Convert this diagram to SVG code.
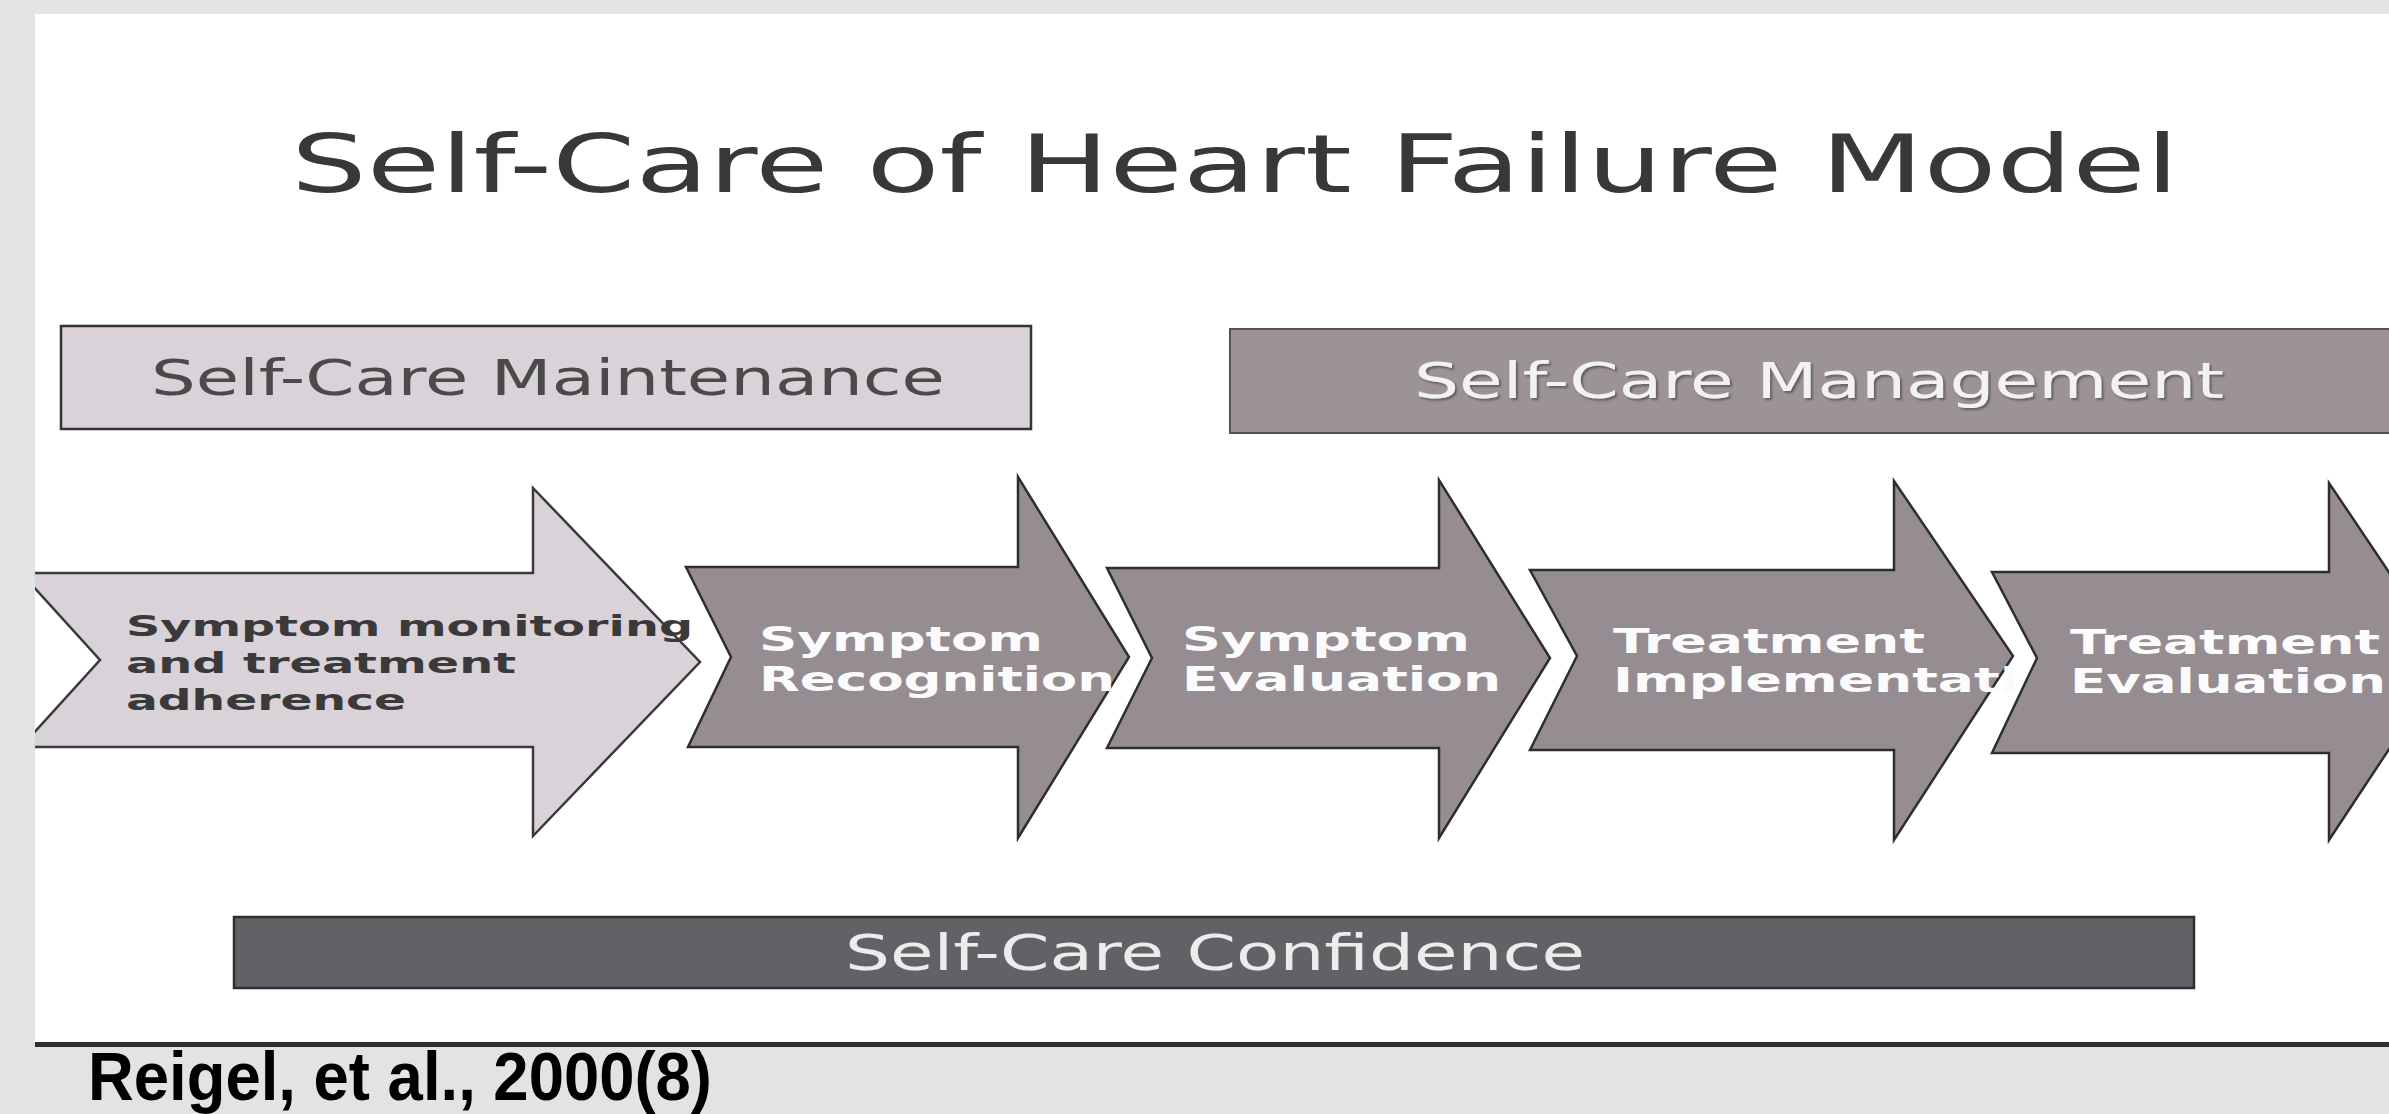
<svg xmlns="http://www.w3.org/2000/svg" width="2389" height="1114" viewBox="0 0 2389 1114">
  <style>
    .label { font-family: "DejaVu Sans", Verdana, sans-serif; }
    .bold { font-family: "DejaVu Sans", Verdana, sans-serif; font-weight: bold; }
    .light-arrow { fill: #d9d2d8; stroke: #3a3a3a; stroke-width: 2.5; stroke-linejoin: miter; }
    .grey-arrow { fill: #968d93; stroke: #2e2e2e; stroke-width: 2.5; stroke-linejoin: miter; }
    .step-text { fill: #fbfbfb; font-size: 34px; }
    .dark-text { fill: #3a3a3a; font-size: 29px; }
    .band-text { font-size: 49px; }
  </style>
  <defs>
    <clipPath id="panel-clip">
      <rect x="35" y="14" width="2354" height="1031"/>
    </clipPath>
    <filter id="soft-shadow" x="-5%" y="-30%" width="110%" height="160%">
      <feDropShadow dx="2" dy="2" stdDeviation="1.2" flood-color="#4a4448" flood-opacity="0.7"/>
    </filter>
  </defs>

  <!-- page background and slide panel -->
  <rect x="0" y="0" width="2389" height="1114" fill="#e2e4e3"/>
  <rect x="35" y="14" width="2354" height="1031" fill="#ffffff"/>
  <rect x="35" y="1042" width="2354" height="5" fill="#2f2f2f"/>

  <!-- heading -->
  <g id="title">
    <text class="label" x="291" y="192" font-size="80" fill="#383838" textLength="1888" lengthAdjust="spacingAndGlyphs">Self-Care of Heart Failure Model</text>
  </g>

  <!-- phase bands -->
  <g id="maintenance">
    <rect x="61" y="326" width="970" height="103" fill="#d9d2d8" stroke="#333333" stroke-width="2.5"/>
    <text class="label band-text" x="151" y="395" fill="#4a4a4a" textLength="794" lengthAdjust="spacingAndGlyphs">Self-Care Maintenance</text>
  </g>

  <g id="management">
    <rect x="1230" y="329" width="1175" height="104" fill="#9c9398" stroke="#555055" stroke-width="2"/>
    <text class="label band-text" x="1414" y="398" fill="#f2f2f2" filter="url(#soft-shadow)" textLength="810" lengthAdjust="spacingAndGlyphs">Self-Care Management</text>
  </g>

  <!-- process steps, drawn left to right so each notch overlaps the previous head -->
  <g id="steps" clip-path="url(#panel-clip)">
    <g id="step-monitoring">
      <polygon class="light-arrow" points="21,573 533,573 533,488 700,662 533,836 533,747 21,747 100,660"/>
      <text class="bold dark-text" x="126" y="636" textLength="567" lengthAdjust="spacingAndGlyphs">Symptom monitoring</text>
      <text class="bold dark-text" x="126" y="673" textLength="390" lengthAdjust="spacingAndGlyphs">and treatment</text>
      <text class="bold dark-text" x="126" y="710" textLength="280" lengthAdjust="spacingAndGlyphs">adherence</text>
    </g>
    <g id="step-recognition">
      <polygon class="grey-arrow" points="686,567 1018,567 1018,477 1129,657 1018,838 1018,747 688,747 731,657"/>
      <text class="bold step-text" x="759" y="651" textLength="284" lengthAdjust="spacingAndGlyphs">Symptom</text>
      <text class="bold step-text" x="759" y="691" textLength="356" lengthAdjust="spacingAndGlyphs">Recognition</text>
    </g>
    <g id="step-symptom-evaluation">
      <polygon class="grey-arrow" points="1107,568 1439,568 1439,480 1550,658 1439,838 1439,748 1107,748 1152,658"/>
      <text class="bold step-text" x="1182" y="651" textLength="288" lengthAdjust="spacingAndGlyphs">Symptom</text>
      <text class="bold step-text" x="1182" y="691" textLength="319" lengthAdjust="spacingAndGlyphs">Evaluation</text>
    </g>
    <g id="step-implementation">
      <polygon class="grey-arrow" points="1530,570 1894,570 1894,481 2013,656 1894,840 1894,750 1530,750 1577,656"/>
      <text class="bold step-text" x="1613" y="653" textLength="312" lengthAdjust="spacingAndGlyphs">Treatment</text>
      <text class="bold step-text" x="1613" y="692" textLength="480" lengthAdjust="spacingAndGlyphs">Implementation</text>
    </g>
    <g id="step-treatment-evaluation">
      <polygon class="grey-arrow" points="1992,572 2329,572 2329,483 2448,660 2329,840 2329,753 1992,753 2037,658"/>
      <text class="bold step-text" x="2070" y="654" textLength="310" lengthAdjust="spacingAndGlyphs">Treatment</text>
      <text class="bold step-text" x="2070" y="693" textLength="316" lengthAdjust="spacingAndGlyphs">Evaluation</text>
    </g>
  </g>

  <g id="confidence">
    <rect x="234" y="917" width="1960" height="71" fill="#646166" stroke="#2f2f2f" stroke-width="2.5"/>
    <text class="label band-text" x="845" y="970" fill="#ececec" textLength="740" lengthAdjust="spacingAndGlyphs">Self-Care Confidence</text>
  </g>

  <g id="connectors"/>

  <g id="citation">
    <text x="88" y="1100" font-family="'Liberation Sans', Arial, sans-serif" font-weight="bold" font-size="68" fill="#000000" textLength="624" lengthAdjust="spacingAndGlyphs">Reigel, et al., 2000(8)</text>
  </g>
</svg>
